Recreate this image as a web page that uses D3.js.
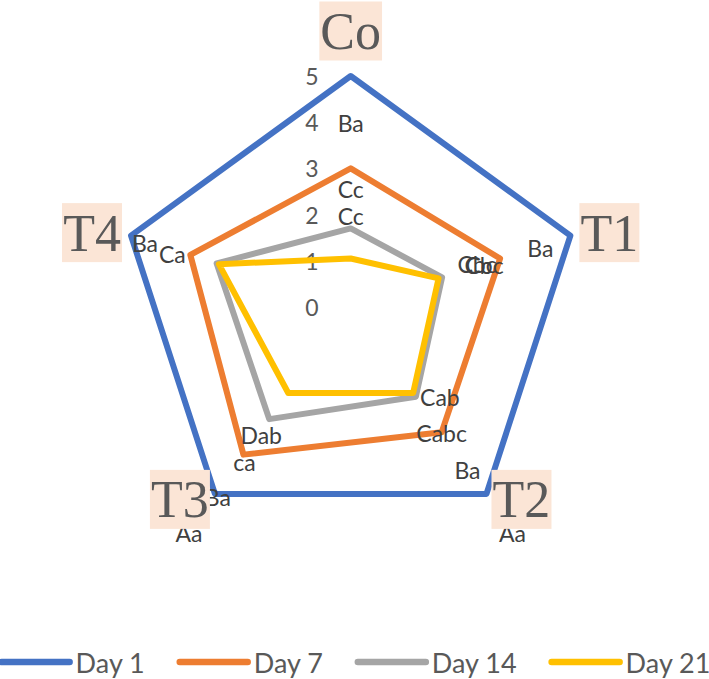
<!DOCTYPE html>
<html>

<head>
    <meta charset="utf-8" />
    <title>Radar chart</title>
    <script src="https://d3js.org/d3.v7.min.js"></script>
    <style>
        body {
            margin: 0;
            background: #fff;
        }
    </style>
</head>

<body>
    <div class="chart"></div>

    <script>
        // data
        const categories = ["Co", "T1", "T2", "T3", "T4"];
        const seriesNames = ["Day 1", "Day 7", "Day 14", "Day 21"];
        const day1 = [5, 5, 5, 5, 5];
        const day7 = [3.0, 3.4, 3.35, 3.95, 3.65];
        const day14 = [1.7, 2.08, 2.4, 3.0, 3.05];
        const day21 = [1.05, 2.0, 2.3, 2.3, 3.0];
        const tickValues = [0, 1, 2, 3, 4, 5];

        // letter labels next to the points
        const labels1 = ["Ba", "Ba", "Ba", "Ba", "Ba"];
        const labels7 = ["Cc", "Cbc", "Cabc", "ca", "Ca"];
        const labels14 = ["Cc", "Cbc", "Cab", "Dab", ""];
        const labels21 = ["", "Cc", "", "", ""];
        const categoryNotes = ["", "", "Aa", "Aa", ""];

        // general sizes
        const w = 709;
        const h = 679;
        const cx = 350.7;
        const cy = 307;
        const colors = ["#4472C4", "#ED7D31", "#A5A5A5", "#FFC000"];

        // where each letter label sits relative to its point (px)
        const labelNudge = [
            [[0, 47], [-30, 12], [-19, -24], [3, 3], [14, 7]],
            [[0, 21], [-23, 6], [0, 1], [1, 7], [-18, -1]],
            [[0, -12], [42, -12], [24, 0], [-8, 16], [0, 0]],
            [[0, 0], [40, -13], [0, 0], [0, 0], [0, 0]]
        ];

        const values = [day1, day7, day14, day21];
        const labels = [labels1, labels7, labels14, labels21];

        const r = d3.scaleLinear().domain([0, 5]).range([0, 231]);
        const angle = d3.scalePoint().domain(categories).range([0, 2 * Math.PI * 4 / 5]);

        function pointAt(cat, v) {
            const a = angle(cat);
            return [cx + r(v) * Math.sin(a), cy - r(v) * Math.cos(a)];
        }

        let svg = d3.select('.chart')
            .append('svg')
            .attr('width', w)
            .attr('height', h)
            .style('font-family', 'Lato, "Open Sans", sans-serif');

        // tick labels along the top axis
        svg.selectAll('text.tick')
            .data(tickValues)
            .enter()
            .append('text')
            .attr('class', 'tick')
            .attr('x', cx - 32)
            .attr('y', d => cy - r(d))
            .attr('text-anchor', 'end')
            .attr('dominant-baseline', 'central')
            .attr('font-size', 23)
            .attr('fill', '#595959')
            .text(d => d);

        // the polygons
        const line = d3.lineRadial()
            .angle((d, i) => angle(categories[i]))
            .radius(d => r(d))
            .curve(d3.curveLinearClosed);

        svg.append('g')
            .attr('transform', `translate(${cx},${cy})`)
            .selectAll('path')
            .data(values)
            .enter()
            .append('path')
            .attr('d', d => line(d))
            .attr('fill', 'none')
            .attr('stroke', (d, i) => colors[i])
            .attr('stroke-width', 6)
            .attr('stroke-linejoin', 'round');

        // letter labels
        const labelRows = [];
        values.forEach((vals, s) => {
            vals.forEach((v, k) => {
                if (!labels[s][k]) return;
                const p = pointAt(categories[k], v);
                labelRows.push({
                    text: labels[s][k],
                    x: p[0] + labelNudge[s][k][0],
                    y: p[1] + labelNudge[s][k][1]
                });
            });
        });

        svg.selectAll('text.lbl')
            .data(labelRows)
            .enter()
            .append('text')
            .attr('class', 'lbl')
            .attr('x', d => d.x)
            .attr('y', d => d.y)
            .attr('text-anchor', 'middle')
            .attr('dominant-baseline', 'central')
            .attr('font-size', 23)
            .attr('fill', '#404040')
            .text(d => d.text);

        // category labels sit just outside the outer vertex
        const catRows = categories.map((c, k) => {
            const a = angle(c);
            const p = pointAt(c, 5);
            const s = Math.sin(a), co = Math.cos(a);
            let dx = 0, dy = -45;
            if (Math.abs(s) > 0.1) {
                dx = Math.sign(s) * (co > 0 ? 39 : 35);
                dy = co > 0 ? -3 : 5.5;
            }
            return { name: c, note: categoryNotes[k], x: p[0] + dx, y: p[1] + dy, side: Math.sign(Math.round(s * 10)) };
        });

        svg.selectAll('text.note')
            .data(catRows.filter(d => d.note))
            .enter()
            .append('text')
            .attr('class', 'note')
            .attr('x', d => d.x - d.side * 9)
            .attr('y', d => d.y + 34)
            .attr('text-anchor', 'middle')
            .attr('dominant-baseline', 'central')
            .attr('font-size', 23)
            .attr('fill', '#404040')
            .text(d => d.note);

        const cats = svg.selectAll('g.cat')
            .data(catRows)
            .enter()
            .append('g')
            .attr('class', 'cat')
            .attr('transform', d => `translate(${d.x},${d.y})`);

        cats.append('rect')
            .attr('x', -30)
            .attr('y', -29.5)
            .attr('width', 60)
            .attr('height', 59)
            .attr('fill', '#FBE5D6');

        cats.append('text')
            .attr('x', 0)
            .attr('y', 18)
            .attr('text-anchor', 'middle')
            .attr('font-family', '"Liberation Serif", "DejaVu Serif", serif')
            .attr('font-size', 52)
            .attr('fill', '#595959')
            .text(d => d.name);

        // widen the boxes to fit the text
        cats.each(function () {
            const g = d3.select(this);
            const bb = g.select('text').node().getBBox();
            const bw = Math.max(60, bb.width + 2);
            g.select('rect').attr('x', -bw / 2).attr('width', bw);
        });

        // legend
        const legend = svg.append('g');
        let xPos = 0;
        seriesNames.forEach((name, i) => {
            const item = legend.append('g').attr('transform', `translate(${xPos},0)`);
            item.append('line')
                .attr('x1', 3).attr('x2', 71)
                .attr('y1', 0).attr('y2', 0)
                .attr('stroke', colors[i])
                .attr('stroke-width', 6.5)
                .attr('stroke-linecap', 'round');
            const t = item.append('text')
                .attr('x', 77)
                .attr('y', 0)
                .attr('dominant-baseline', 'central')
                .attr('font-size', 27)
                .attr('fill', '#595959')
                .text(name);
            xPos += 77 + t.node().getComputedTextLength() + 32;
        });
        const legendWidth = xPos - 32;
        legend.attr('transform', `translate(${(w - legendWidth) / 2},662)`);
    </script>

</body>

</html>
